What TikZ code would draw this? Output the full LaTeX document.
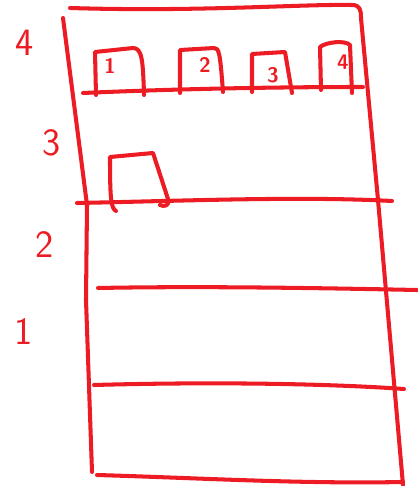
\documentclass[tikz,border=0pt]{standalone}
\definecolor{sketchred}{RGB}{237,28,36}
\begin{document}
\begin{tikzpicture}[x=0.02cm,y=-0.02cm,
    pen/.style={draw=sketchred,line width=2.3pt,line cap=round,line join=round},
    floornum/.style={text=sketchred,font=\sffamily\fontsize{22}{22}\selectfont},
    roomnum/.style={text=sketchred,font=\sffamily\bfseries\fontsize{12}{12}\selectfont}]
    \useasboundingbox (0,0) rectangle (418,486);
    % outer walls
    \draw[pen] (70,8) .. controls (200,12) and (300,4) .. (352,5) .. controls (360,5) and (361,10) .. (361,18) -- (378,200) -- (403,485);
    \draw[pen] (63,18) -- (87,205) -- (86,300) -- (92,472);
    \draw[pen] (97,475) .. controls (200,478) and (300,484) .. (403,482);
    % floor lines
    \draw[pen] (83,93) .. controls (150,90) and (250,87) .. (363,87);
    \draw[pen] (77,203) .. controls (180,201) and (300,196) .. (392,201);
    \draw[pen] (98,288) .. controls (200,286) and (320,288) .. (417,290);
    \draw[pen] (94,385) .. controls (200,382) and (320,383) .. (404,389);
    % rooms on floor 4
    \draw[pen] (96,95) -- (95,52) -- (133,48) .. controls (142,48) and (143,60) .. (144,95);
    \draw[pen] (180,93) -- (180,50) -- (214,48) .. controls (219,48) and (220,52) .. (223,92);
    \draw[pen] (252,92) -- (252,54) -- (285,52) -- (292,93);
    \draw[pen] (321,90) -- (320,47) .. controls (326,42) and (345,40) .. (350,45) -- (352,93);
    % room on floor 3
    \draw[pen] (116,211) .. controls (111,208) and (110,200) .. (110,157) -- (153,153) -- (168,199) .. controls (170,206) and (164,207) .. (160,205);
    % floor numbers
    \node[floornum] (floor4) at (25,43) {4};
    \node[floornum] (floor3) at (52,143) {3};
    \node[floornum] (floor2) at (45,245) {2};
    \node[floornum] (floor1) at (24,332) {1};
    % room numbers
    \node[roomnum] (room1) at (110,66) {1};
    \node[roomnum] (room2) at (205,65) {2};
    \node[roomnum] (room3) at (273,75) {3};
    \node[roomnum] (room4) at (343,62) {4};
\end{tikzpicture}
\end{document}
